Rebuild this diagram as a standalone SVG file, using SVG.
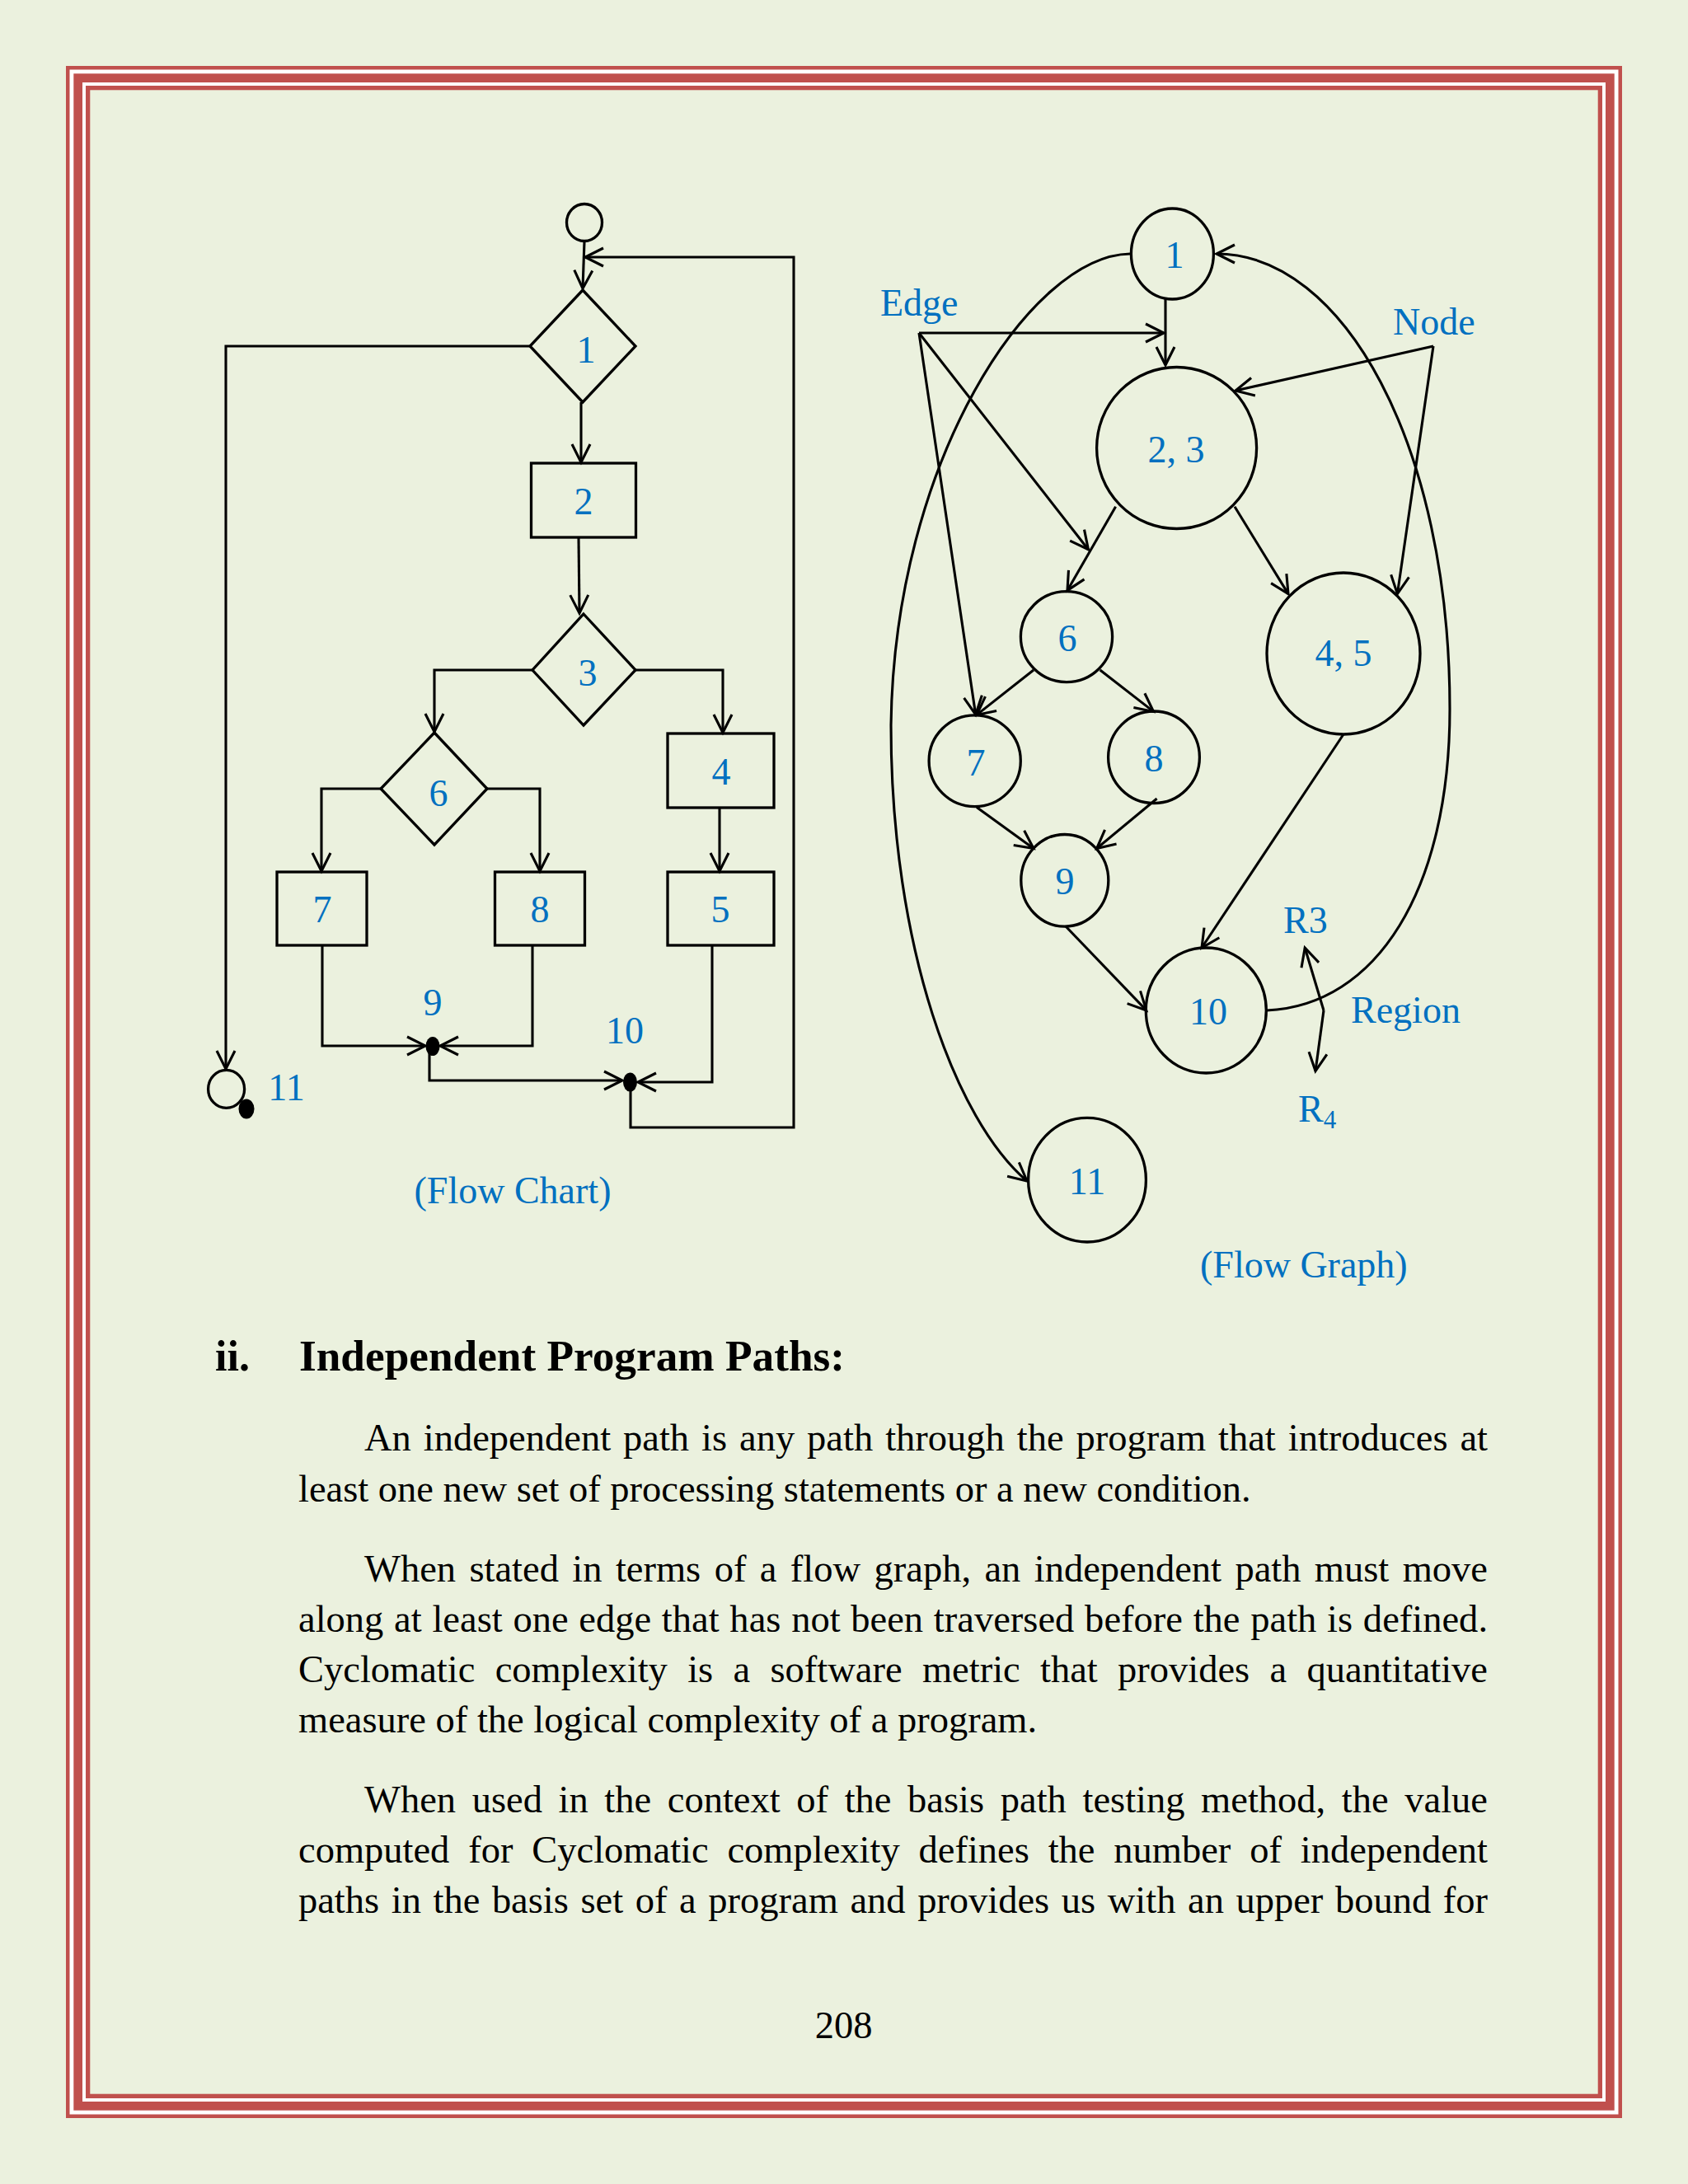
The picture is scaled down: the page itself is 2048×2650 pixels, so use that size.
<svg xmlns="http://www.w3.org/2000/svg" width="2048" height="2650" viewBox="0 0 2048 2650">
<defs>
<marker id="arr" markerUnits="userSpaceOnUse" viewBox="-26 -14 30 28" refX="0" refY="0" markerWidth="30" markerHeight="28" orient="auto">
<path d="M-22,-11 L0,0 L-22,11" fill="none" stroke="#000" stroke-width="3.1" stroke-linejoin="miter"/>
</marker>
</defs>
<style>
.ln{fill:none;stroke:#000;stroke-width:3.1}
.nd{fill:none;stroke:#000;stroke-width:3.3}
.dot{fill:#000}
.lb{font-family:"Liberation Serif","Times New Roman",serif;font-size:46px;fill:#0070C0}
.m{text-anchor:middle}
.tx{font-family:"Liberation Serif","Times New Roman",serif;font-size:46.5px;fill:#000}
.hd{font-family:"Liberation Serif","Times New Roman",serif;font-size:52px;font-weight:bold;fill:#000}
</style>

<g id="page">
<rect x="0" y="0" width="2048" height="2650" fill="#EBF1DE"/>
<rect x="80" y="80" width="1888" height="2490" fill="#C0504D"/>
<rect x="84.5" y="84.5" width="1879" height="2481" fill="#FFFFFF"/>
<rect x="89.3" y="89.3" width="1869.4" height="2471.4" fill="#C0504D"/>
<rect x="100" y="100" width="1848" height="2450" fill="#FFFFFF"/>
<rect x="104" y="104" width="1840" height="2442" fill="#C0504D"/>
<rect x="109.3" y="109.3" width="1829.4" height="2431.4" fill="#EBF1DE"/>
</g>

<!-- Flow chart connectors -->
<g id="fc-connectors">
<line class="ln" x1="709" y1="293" x2="707" y2="350" marker-end="url(#arr)"/>
<polyline class="ln" points="643,420 274,420 274,1297" marker-end="url(#arr)"/>
<line class="ln" x1="705" y1="488" x2="705" y2="561" marker-end="url(#arr)"/>
<line class="ln" x1="702" y1="652" x2="703" y2="744" marker-end="url(#arr)"/>
<polyline class="ln" points="646,813 527,813 527,888" marker-end="url(#arr)"/>
<polyline class="ln" points="771,813 877,813 877,889" marker-end="url(#arr)"/>
<polyline class="ln" points="462,957 390,957 390,1057" marker-end="url(#arr)"/>
<polyline class="ln" points="591,957 655,957 655,1057" marker-end="url(#arr)"/>
<line class="ln" x1="873" y1="980" x2="873" y2="1057" marker-end="url(#arr)"/>
<polyline class="ln" points="391,1147 391,1269 516,1269" marker-end="url(#arr)"/>
<polyline class="ln" points="646,1147 646,1269 534,1269" marker-end="url(#arr)"/>
<polyline class="ln" points="521,1270 521,1311 755,1311" marker-end="url(#arr)"/>
<polyline class="ln" points="864,1147 864,1313 774,1313" marker-end="url(#arr)"/>
<polyline class="ln" points="765,1313 765,1368 963,1368 963,312 710,312" marker-end="url(#arr)"/>
</g>

<!-- Flow chart nodes -->
<g id="fc-start"><ellipse class="nd" cx="709" cy="270" rx="21.5" ry="22.5"/></g>
<g id="fc-1"><polygon class="nd" points="707,352 771,420 707,488 643,420"/><text class="lb m" x="711" y="440" font-size="43">1</text></g>
<g id="fc-2"><rect class="nd" x="644.5" y="562" width="127" height="90"/><text class="lb m" x="708" y="624">2</text></g>
<g id="fc-3"><polygon class="nd" points="708,745 771,813 708,880 646,813"/><text class="lb m" x="713" y="832">3</text></g>
<g id="fc-6"><polygon class="nd" points="527,889 591,957 527,1025 462,957"/><text class="lb m" x="532" y="978">6</text></g>
<g id="fc-7"><rect class="nd" x="336" y="1058" width="109" height="89"/><text class="lb m" x="391" y="1119">7</text></g>
<g id="fc-8"><rect class="nd" x="600.5" y="1058" width="109" height="89"/><text class="lb m" x="655" y="1119">8</text></g>
<g id="fc-4"><rect class="nd" x="810" y="890" width="129" height="90"/><text class="lb m" x="875" y="952">4</text></g>
<g id="fc-5"><rect class="nd" x="810" y="1058" width="129" height="89"/><text class="lb m" x="874" y="1119">5</text></g>
<g id="fc-9"><ellipse class="dot" cx="525" cy="1269.5" rx="8.5" ry="11.5"/><text class="lb m" x="525" y="1232">9</text></g>
<g id="fc-10"><ellipse class="dot" cx="764.5" cy="1313" rx="8.5" ry="11.5"/><text class="lb m" x="758" y="1266">10</text></g>
<g id="fc-11"><ellipse class="nd" cx="274.6" cy="1321.4" rx="22" ry="23"/><ellipse class="dot" cx="299" cy="1345.5" rx="9.5" ry="12"/><text class="lb m" x="347.5" y="1335">11</text></g>
<g id="fc-caption"><text class="lb m" x="622" y="1460">(Flow Chart)</text></g>

<!-- Flow graph connectors -->
<g id="fg-connectors">
<line class="ln" x1="1414" y1="363" x2="1414" y2="443" marker-end="url(#arr)"/>
<line class="ln" x1="1353.6" y1="614.8" x2="1295" y2="716.4" marker-end="url(#arr)"/>
<line class="ln" x1="1498" y1="614.8" x2="1563" y2="720.6" marker-end="url(#arr)"/>
<line class="ln" x1="1254" y1="813" x2="1185" y2="867.4" marker-end="url(#arr)"/>
<line class="ln" x1="1334.7" y1="813" x2="1399.5" y2="863.4" marker-end="url(#arr)"/>
<line class="ln" x1="1185" y1="979.5" x2="1254" y2="1029.5" marker-end="url(#arr)"/>
<line class="ln" x1="1403.6" y1="969" x2="1330.6" y2="1029.5" marker-end="url(#arr)"/>
<line class="ln" x1="1293" y1="1124" x2="1390.8" y2="1225.9" marker-end="url(#arr)"/>
<line class="ln" x1="1630" y1="891" x2="1458" y2="1150" marker-end="url(#arr)"/>
<path class="ln" d="M1371,308 C1250,310 1085,560 1081,880 C1081,1150 1160,1360 1246,1433" marker-end="url(#arr)"/>
<path class="ln" d="M1537,1226 C1670,1220 1759,1080 1759,860 C1759,540 1630,308 1476,308" marker-end="url(#arr)"/>
<line class="ln" x1="1115" y1="404" x2="1412" y2="404" marker-end="url(#arr)"/>
<line class="ln" x1="1115" y1="404" x2="1183.7" y2="867" marker-end="url(#arr)"/>
<line class="ln" x1="1115" y1="404" x2="1320.4" y2="666.7" marker-end="url(#arr)"/>
<line class="ln" x1="1739" y1="420" x2="1499" y2="474" marker-end="url(#arr)"/>
<line class="ln" x1="1739" y1="420" x2="1695.4" y2="720.6" marker-end="url(#arr)"/>
<line class="ln" x1="1606" y1="1226" x2="1583.2" y2="1150" marker-end="url(#arr)"/>
<line class="ln" x1="1606" y1="1226" x2="1596" y2="1299.6" marker-end="url(#arr)"/>
</g>

<!-- Flow graph nodes -->
<g id="fg-1"><ellipse class="nd" cx="1422.4" cy="308" rx="50" ry="55"/><text class="lb m" x="1425" y="325">1</text></g>
<g id="fg-23"><ellipse class="nd" cx="1427.6" cy="543.5" rx="97" ry="98"/><text class="lb m" x="1427" y="561">2, 3</text></g>
<g id="fg-6"><ellipse class="nd" cx="1294" cy="772.6" rx="55.6" ry="55"/><text class="lb m" x="1295" y="790">6</text></g>
<g id="fg-45"><ellipse class="nd" cx="1630" cy="793" rx="93" ry="98"/><text class="lb m" x="1630" y="808">4, 5</text></g>
<g id="fg-7"><ellipse class="nd" cx="1182.7" cy="923.2" rx="55.6" ry="55.4"/><text class="lb m" x="1184" y="941">7</text></g>
<g id="fg-8"><ellipse class="nd" cx="1400" cy="918.8" rx="55.4" ry="55.8"/><text class="lb m" x="1400" y="936">8</text></g>
<g id="fg-9"><ellipse class="nd" cx="1291.8" cy="1068.3" rx="53" ry="55.8"/><text class="lb m" x="1292" y="1085">9</text></g>
<g id="fg-10"><ellipse class="nd" cx="1463.3" cy="1226" rx="73" ry="76"/><text class="lb m" x="1466" y="1243">10</text></g>
<g id="fg-11"><ellipse class="nd" cx="1319" cy="1431.7" rx="71.4" ry="75.3"/><text class="lb m" x="1319" y="1449">11</text></g>
<g id="fg-labels">
<text class="lb" x="1068" y="383">Edge</text>
<text class="lb" x="1690" y="406">Node</text>
<text class="lb" x="1557" y="1132">R3</text>
<text class="lb" x="1639" y="1241">Region</text>
<text class="lb" x="1575" y="1361">R<tspan font-size="31" dy="8">4</tspan></text>
<text class="lb" x="1456" y="1550">(Flow Graph)</text>
</g>

<!-- Body text -->
<g id="text">
<text class="hd" x="261" y="1663">ii.</text>
<text class="hd" x="363" y="1663" textLength="662" lengthAdjust="spacingAndGlyphs">Independent Program Paths:</text>
<text class="tx" x="442" y="1760" word-spacing="3.3" textLength="1363" lengthAdjust="spacing">An independent path is any path through the program that introduces at</text>
<text class="tx" x="362" y="1822">least one new set of processing statements or a new condition.</text>
<text class="tx" x="442" y="1919" word-spacing="4.8" textLength="1363" lengthAdjust="spacing">When stated in terms of a flow graph, an independent path must move</text>
<text class="tx" x="362" y="1980" word-spacing="1.1" textLength="1443" lengthAdjust="spacing">along at least one edge that has not been traversed before the path is defined.</text>
<text class="tx" x="362" y="2041" word-spacing="12.7" textLength="1443" lengthAdjust="spacing">Cyclomatic complexity is a software metric that provides a quantitative</text>
<text class="tx" x="362" y="2102">measure of the logical complexity of a program.</text>
<text class="tx" x="442" y="2199" word-spacing="8" textLength="1363" lengthAdjust="spacing">When used in the context of the basis path testing method, the value</text>
<text class="tx" x="362" y="2260" word-spacing="11.2" textLength="1443" lengthAdjust="spacing">computed for Cyclomatic complexity defines the number of independent</text>
<text class="tx" x="362" y="2321" word-spacing="3" textLength="1443" lengthAdjust="spacing">paths in the basis set of a program and provides us with an upper bound for</text>
<text class="tx m" x="1023.5" y="2473">208</text>
</g>
</svg>
